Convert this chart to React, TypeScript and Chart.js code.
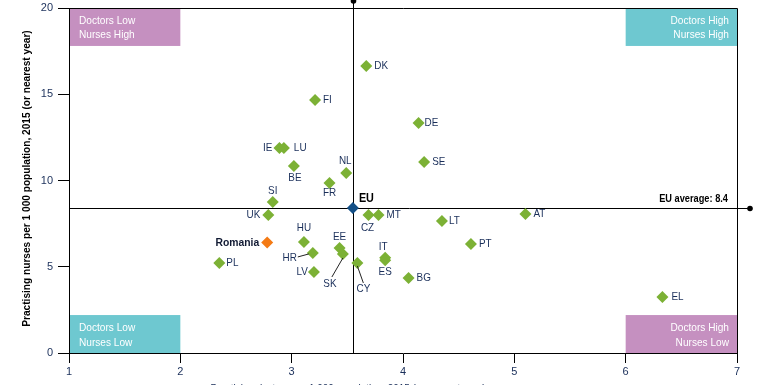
import React, { useEffect, useRef } from 'react';
import { Chart, registerables } from 'chart.js';

Chart.register(...registerables);

// ---- Data ----
const countries = ['DK', 'FI', 'IE', 'LU', 'BE', 'NL', 'FR', 'SI', 'UK', 'PL', 'HU', 'HR', 'LV', 'EE', 'SK', 'CY', 'CZ', 'MT', 'IT', 'ES', 'BG', 'LT', 'AT', 'PT', 'EL', 'DE', 'SE'];
const doctorsPer1000 = [3.67, 3.21, 2.89, 2.93, 3.02, 3.49, 3.34, 2.83, 2.79, 2.35, 3.11, 3.19, 3.2, 3.43, 3.46, 3.59, 3.69, 3.78, 3.84, 3.84, 4.05, 4.35, 5.1, 4.61, 6.33, 4.14, 4.19];
const nursesPer1000 = [16.64, 14.67, 11.88, 11.88, 10.84, 10.43, 9.86, 8.75, 8.0, 5.22, 6.43, 5.8, 4.7, 6.09, 5.74, 5.22, 8.0, 8.0, 5.52, 5.38, 4.35, 7.65, 8.06, 6.32, 3.25, 13.33, 11.07];
const focusLabel = 'Romania';
const focusDoctors = [2.78];
const focusNurses = [6.4];
const euLabel = 'EU';
const euDoctors = [3.55];
const euNurses = [8.4];
const euAverageText = 'EU average: 8.4';
const xMin = 1, xMax = 7, xStep = 1;
const yMin = 0, yMax = 20, yStep = 5;
const quadrantNames = [['Doctors Low', 'Nurses High'], ['Doctors High', 'Nurses High'], ['Doctors Low', 'Nurses Low'], ['Doctors High', 'Nurses Low']];
const quadrantX = [[1, 2], [6, 7], [1, 2], [6, 7]];
const quadrantY = [[17.8, 20], [17.8, 20], [0, 2.2], [0, 2.2]];
const yTitle = 'Practising nurses per 1 000 population, 2015 (or nearest year)';
const xTitle = 'Practising doctors per 1 000 population, 2015 (or nearest year)';

// ---- Styles ----
const FONT = "'Liberation Sans', Arial, sans-serif";
const GREEN = '#7cb135';
const ORANGE = '#f47a14';
const EU_BLUE = '#134f86';
const PURPLE = '#c590c0';
const TEAL = '#6ec8d0';
const NAVY = '#1a2f5a';
const NARROW = 0.84;
const quadrantColors = [PURPLE, TEAL, TEAL, PURPLE];
const quadrantAlign: CanvasTextAlign[] = ['left', 'right', 'left', 'right'];

// label offsets (px) relative to the marker: [dx, dy, align, leader?]
const labelPlace: Record<string, [number, number, CanvasTextAlign, number[]?]> = {
  DK: [8, 0, 'left'], FI: [8, 0, 'left'], IE: [-7, 0, 'right'], LU: [10, 0, 'left'],
  BE: [1, 12, 'center'], NL: [-1, -12, 'center'], FR: [0, 10, 'center'], SI: [0, -11, 'center'],
  UK: [-8, 0, 'right'], PL: [7, 0, 'left'], HU: [0, -14, 'center'],
  HR: [-16, 5, 'right', [-4, 1, -15, 4]], LV: [-6, 0, 'right'], EE: [0, -11, 'center'],
  SK: [-13, 30, 'center', [0, 4, -11, 23]], CY: [6, 26, 'center', [0, 3, 6, 20]],
  CZ: [-1, 13, 'center'], MT: [8, 0, 'left'], IT: [-2, -11, 'center'], ES: [0, 12, 'center'],
  BG: [8, 0, 'left'], LT: [7, 0, 'left'], AT: [8, 0, 'left'], PT: [8, 0, 'left'],
  EL: [9, 0, 'left'], DE: [6, 0, 'left'], SE: [8, 0, 'left'],
};

function narrowText(ctx: CanvasRenderingContext2D, text: string, x: number, y: number, align: CanvasTextAlign, k = NARROW) {
  ctx.save();
  ctx.translate(x, y);
  ctx.scale(k, 1);
  ctx.textAlign = align;
  ctx.fillText(text, 0, 0);
  ctx.restore();
}

const overlayPlugin = {
  id: 'overlay',
  beforeDraw(chart: any) {
    const { ctx, chartArea: a, scales } = chart;
    const x = scales.x, y = scales.y;
    ctx.save();
    // quadrant boxes
    quadrantNames.forEach((lines, i) => {
      let x0 = x.getPixelForValue(quadrantX[i][0]);
      const x1 = x.getPixelForValue(quadrantX[i][1]);
      const y0 = y.getPixelForValue(quadrantY[i][0]);
      const y1 = y.getPixelForValue(quadrantY[i][1]);
      if (quadrantX[i][0] === xMin) x0 += 1;
      ctx.fillStyle = quadrantColors[i];
      ctx.fillRect(x0, y1, x1 - x0, y0 - y1);
      ctx.fillStyle = '#ffffff';
      ctx.font = `11px ${FONT}`;
      ctx.textBaseline = 'middle';
      const tx = quadrantAlign[i] === 'left' ? x0 + 9 : x1 - 8;
      const top = quadrantY[i][1] === yMax;
      const ly = top ? [y1 + 13, y1 + 27] : [y0 - 25, y0 - 10];
      narrowText(ctx, lines[0], tx, ly[0], quadrantAlign[i], 0.92);
      narrowText(ctx, lines[1], tx, ly[1], quadrantAlign[i], 0.92);
    });
    // EU reference lines
    const ex = Math.round(x.getPixelForValue(euDoctors[0])) + 0.5;
    const ey = Math.round(y.getPixelForValue(euNurses[0])) + 0.5;
    ctx.strokeStyle = '#000';
    ctx.lineWidth = 1;
    ctx.beginPath();
    ctx.moveTo(a.left, ey);
    ctx.lineTo(750, ey);
    ctx.moveTo(ex, a.bottom);
    ctx.lineTo(ex, 1);
    ctx.stroke();
    ctx.fillStyle = '#000';
    ctx.beginPath();
    ctx.arc(750, ey, 2.8, 0, Math.PI * 2);
    ctx.fill();
    ctx.beginPath();
    ctx.arc(ex, 1, 2.8, 0, Math.PI * 2);
    ctx.fill();
    ctx.font = `bold 11px ${FONT}`;
    ctx.textBaseline = 'middle';
    narrowText(ctx, euAverageText, a.right - 9, ey - 10, 'right');
    ctx.restore();
  },
  afterDatasetsDraw(chart: any) {
    const { ctx, scales } = chart;
    const x = scales.x, y = scales.y;
    ctx.save();
    ctx.textBaseline = 'middle';
    ctx.font = `11px ${FONT}`;
    countries.forEach((c, i) => {
      const px = x.getPixelForValue(doctorsPer1000[i]);
      const py = y.getPixelForValue(nursesPer1000[i]);
      const p = labelPlace[c] || [8, 0, 'left'];
      ctx.fillStyle = NAVY;
      narrowText(ctx, c, px + p[0], py + p[1], p[2], 0.9);
      if (p[3]) {
        const l = p[3];
        ctx.strokeStyle = '#222';
        ctx.lineWidth = 1;
        ctx.beginPath();
        ctx.moveTo(px + l[0], py + l[1]);
        ctx.lineTo(px + l[2], py + l[3]);
        ctx.stroke();
      }
    });
    // Romania
    const rx = x.getPixelForValue(focusDoctors[0]);
    const ry = y.getPixelForValue(focusNurses[0]);
    ctx.font = `bold 11.5px ${FONT}`;
    ctx.fillStyle = '#111a33';
    narrowText(ctx, focusLabel, rx - 8, ry, 'right', 0.9);
    // EU
    const ex = x.getPixelForValue(euDoctors[0]);
    const ey = y.getPixelForValue(euNurses[0]);
    ctx.font = `bold 12px ${FONT}`;
    ctx.fillStyle = '#000';
    narrowText(ctx, euLabel, ex + 6, ey - 9, 'left', 0.9);
    ctx.restore();
  },
  afterDraw(chart: any) {
    const { ctx, chartArea: a } = chart;
    ctx.save();
    ctx.strokeStyle = '#000';
    ctx.lineWidth = 1;
    ctx.beginPath();
    ctx.moveTo(a.left, Math.round(a.top) + 0.5);
    ctx.lineTo(Math.round(a.right) + 0.5, Math.round(a.top) + 0.5);
    ctx.lineTo(Math.round(a.right) + 0.5, a.bottom);
    ctx.stroke();
    // axis titles
    ctx.fillStyle = '#000';
    ctx.font = `bold 11px ${FONT}`;
    ctx.textBaseline = 'middle';
    ctx.save();
    ctx.translate(27, (a.top + a.bottom) / 2 - 2);
    ctx.rotate(-Math.PI / 2);
    narrowText(ctx, yTitle, 0, 0, 'center', 0.92);
    ctx.restore();
    ctx.font = `11px ${FONT}`;
    ctx.fillStyle = NAVY;
    narrowText(ctx, xTitle, 348, 389, 'center', 0.9);
    ctx.restore();
  },
};

export default function App() {
  const ref = useRef<HTMLCanvasElement>(null);
  useEffect(() => {
    if (!ref.current) return;
    Chart.defaults.font.family = FONT;
    const chart = new Chart(ref.current, {
      type: 'scatter',
      data: {
        datasets: [
          {
            label: euLabel,
            data: euDoctors.map((d, i) => ({ x: d, y: euNurses[i] })),
            backgroundColor: EU_BLUE,
            borderWidth: 0,
            pointStyle: 'rectRot',
            pointRadius: 6,
          },
          {
            label: focusLabel,
            data: focusDoctors.map((d, i) => ({ x: d, y: focusNurses[i] })),
            backgroundColor: ORANGE,
            borderWidth: 0,
            pointStyle: 'rectRot',
            pointRadius: 6,
          },
          {
            label: 'Countries',
            data: doctorsPer1000.map((d, i) => ({ x: d, y: nursesPer1000[i] })),
            backgroundColor: GREEN,
            borderWidth: 0,
            pointStyle: 'rectRot',
            pointRadius: 6,
          },
        ],
      },
      options: {
        responsive: false,
        animation: false,
        devicePixelRatio: 1,
        layout: { padding: { left: 0, top: 8, right: 23, bottom: 0 } },
        plugins: { legend: { display: false }, tooltip: { enabled: false }, title: { display: false } },
        scales: {
          x: {
            type: 'linear',
            min: xMin,
            max: xMax,
            ticks: { stepSize: xStep, color: NAVY, font: { size: 11, family: FONT }, padding: 2 },
            grid: { drawOnChartArea: false, drawTicks: true, tickLength: 10, color: '#000' },
            border: { display: true, color: '#000', width: 1 },
            afterFit: (s: any) => { s.height = 47; s.paddingLeft = 0; s.paddingRight = 0; },
          },
          y: {
            type: 'linear',
            min: yMin,
            max: yMax,
            ticks: { stepSize: yStep, color: NAVY, font: { size: 11, family: FONT }, padding: 5 },
            grid: { drawOnChartArea: false, drawTicks: true, tickLength: 11, color: '#000' },
            border: { display: true, color: '#000', width: 1 },
            afterFit: (s: any) => { s.width = 69; s.paddingTop = 0; s.paddingBottom = 0; },
          },
        },
      },
      plugins: [overlayPlugin],
    });
    return () => chart.destroy();
  }, []);
  return (
    <div style={{ position: 'fixed', left: 0, top: 0, width: 760, height: 385, overflow: 'hidden', background: '#fff' }}>
      <canvas ref={ref} width={760} height={400} style={{ display: 'block', width: 760, height: 400 }} />
    </div>
  );
}
